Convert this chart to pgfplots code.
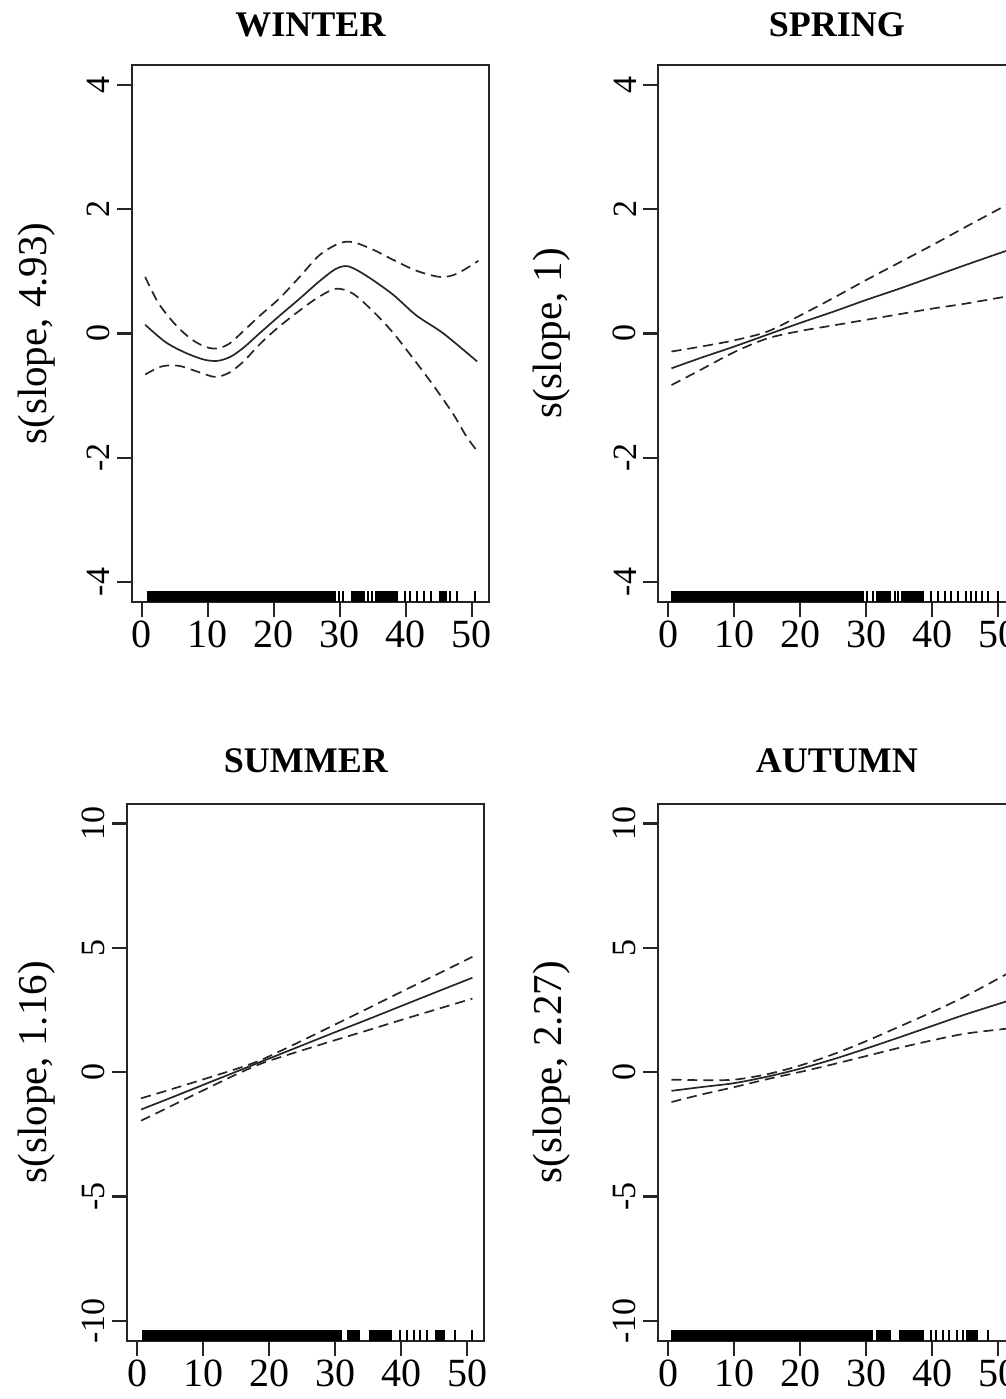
\documentclass[border=0pt]{standalone}
\usepackage{fontspec}
\setmainfont{Liberation Serif}
\usepackage{pgfplots}
\pgfplotsset{compat=1.18}
\begin{document}
\begin{tikzpicture}
\useasboundingbox (0,0) rectangle (503pt,699.5pt);
\clip (0,0) rectangle (503pt,699.5pt);
\pgfplotsset{
  gam/.style={
    scale only axis, width=178.5pt, height=268.5pt, anchor=south west,
    xmin=-1.5, xmax=52.6,
    axis line style={line width=1.1pt, black!85},
    tick align=outside, xtick pos=left, ytick pos=left,
    major tick length=7.5pt,
    tick style={line width=1.1pt, black!85},
    xtick={0,10,20,30,40,50}, xticklabels={0,10,20,30,40,50},
    yticklabel style={rotate=90, anchor=south, font=\fontsize{17}{17}\selectfont},
    xticklabel style={anchor=north, inner sep=2pt, font=\fontsize{20}{20}\selectfont},
    every axis title/.style={at={(0.5,1)}, anchor=base, yshift=14pt, font=\bfseries\fontsize{18}{18}\selectfont},
    ylabel style={font=\fontsize{20.5}{20.5}\selectfont, anchor=center},
  },
  top/.style={ymin=-4.32, ymax=4.32, ytick={-4,-2,0,2,4}, yticklabels={-4,-2,0,2,4}},
  bot/.style={ymin=-10.8, ymax=10.8, ytick={-10,-5,0,5,10}, yticklabels={-10,-5,0,5,10}},
  fit/.style={black!85, line width=0.85pt, smooth},
  ci/.style={black!85, line width=0.85pt, smooth, dash pattern=on 5pt off 3pt},
  rugblk/.style={black, line width=5.5pt, line cap=butt},
  rugtk/.style={black, only marks, mark=|, mark size=2.75pt, mark options={line width=1pt}},
}
% ---------------- WINTER ----------------
\begin{axis}[gam, top, at={(66pt,398.5pt)}, title={WINTER}, ylabel={s(slope, 4.93)},
  ylabel style={at={(axis description cs:-0.266,0.5)}}]
\addplot[rugblk] coordinates {(0.7,-4.23) (29.4,-4.23)};
\addplot[rugblk] coordinates {(31.7,-4.23) (33.8,-4.23)};
\addplot[rugblk] coordinates {(35.3,-4.23) (38.8,-4.23)};
\addplot[rugblk] coordinates {(45.0,-4.23) (46.3,-4.23)};
\addplot[rugtk] coordinates {(29.9,-4.23) (30.5,-4.23) (34.3,-4.23) (34.8,-4.23) (39.8,-4.23) (40.6,-4.23) (41.7,-4.23) (42.8,-4.23) (43.8,-4.23) (46.7,-4.23) (47.7,-4.23) (50.5,-4.23)};
\addplot[fit] coordinates {(0.5,0.14) (3.6,-0.14) (6.6,-0.31) (9.4,-0.42) (11.5,-0.44) (13.5,-0.37) (15.5,-0.22) (17.8,0) (20.8,0.28) (23.9,0.56) (26.9,0.84) (29.4,1.04) (31.3,1.08) (34,0.93) (38,0.63) (41.6,0.29) (45.7,0.0) (50.8,-0.45)};
\addplot[ci] coordinates {(0.5,0.91) (2.5,0.49) (5.1,0.14) (7.6,-0.10) (9.8,-0.22) (11.5,-0.24) (13.3,-0.16) (15.2,0.02) (17.8,0.28) (20.8,0.56) (23.9,0.91) (26.9,1.26) (29.9,1.45) (32,1.47) (35,1.35) (38,1.19) (41.6,1.01) (45.2,0.91) (47.7,0.96) (51,1.17)};
\addplot[ci] coordinates {(0.5,-0.66) (3,-0.53) (5.6,-0.52) (8.6,-0.62) (11.2,-0.70) (13.4,-0.62) (15.5,-0.44) (17.6,-0.20) (19.8,0.02) (22.8,0.28) (26.4,0.56) (29.4,0.72) (32,0.64) (35,0.36) (38,0.02) (41.1,-0.40) (44.2,-0.84) (47.2,-1.30) (49.2,-1.66) (50.8,-1.89)};
\end{axis}
% ---------------- SPRING ----------------
\begin{axis}[gam, top, at={(329.15pt,398.5pt)}, title={SPRING}, ylabel={s(slope, 1)},
  ylabel style={at={(axis description cs:-0.298,0.5)}}]
\addplot[rugblk] coordinates {(0.5,-4.23) (29.7,-4.23)};
\addplot[rugblk] coordinates {(31.5,-4.23) (33.8,-4.23)};
\addplot[rugblk] coordinates {(35.3,-4.23) (38.8,-4.23)};
\addplot[rugtk] coordinates {(30.2,-4.23) (31.0,-4.23) (34.3,-4.23) (34.8,-4.23) (39.8,-4.23) (40.9,-4.23) (41.9,-4.23) (42.9,-4.23) (43.9,-4.23) (45.2,-4.23) (45.9,-4.23) (46.7,-4.23) (47.5,-4.23) (48.5,-4.23) (50.0,-4.23)};
\addplot[fit] coordinates {(0.5,-0.56) (5,-0.39) (10,-0.21) (15,-0.02) (20,0.17) (25,0.35) (30,0.54) (35,0.72) (40,0.91) (45,1.10) (51.5,1.34)};
\addplot[ci] coordinates {(0.5,-0.29) (5,-0.21) (10,-0.11) (15,0.03) (20,0.29) (25,0.57) (30,0.86) (35,1.14) (40,1.42) (45,1.71) (51.5,2.08)};
\addplot[ci] coordinates {(0.5,-0.83) (5,-0.58) (10,-0.30) (15,-0.08) (20,0.04) (25,0.13) (30,0.22) (35,0.31) (40,0.40) (45,0.48) (51.5,0.60)};
\end{axis}
% ---------------- SUMMER ----------------
\begin{axis}[gam, bot, at={(63.65pt,29.15pt)}, title={SUMMER}, ylabel={s(slope, 1.16)},
  every axis title/.append style={yshift=1.5pt},
  ylabel style={at={(axis description cs:-0.253,0.5)}}]
\addplot[rugblk] coordinates {(0.7,-10.6) (31.0,-10.6)};
\addplot[rugblk] coordinates {(31.8,-10.6) (33.8,-10.6)};
\addplot[rugblk] coordinates {(35.1,-10.6) (38.6,-10.6)};
\addplot[rugblk] coordinates {(45.2,-10.6) (46.7,-10.6)};
\addplot[rugtk] coordinates {(39.9,-10.6) (40.9,-10.6) (41.9,-10.6) (42.9,-10.6) (43.9,-10.6) (48.2,-10.6) (50.7,-10.6)};
\addplot[fit] coordinates {(0.6,-1.50) (5,-1.04) (10,-0.51) (15,0.02) (18,0.34) (20,0.55) (25,1.08) (30,1.61) (35,2.13) (40,2.66) (45,3.19) (50.8,3.80)};
\addplot[ci] coordinates {(0.6,-1.05) (5,-0.70) (10,-0.29) (15,0.13) (18,0.41) (20,0.64) (25,1.27) (30,1.92) (35,2.57) (40,3.23) (45,3.88) (50.8,4.64)};
\addplot[ci] coordinates {(0.6,-1.95) (5,-1.38) (10,-0.73) (15,-0.09) (18,0.26) (20,0.46) (25,0.88) (30,1.29) (35,1.69) (40,2.10) (45,2.50) (50.8,2.96)};
\end{axis}
% ---------------- AUTUMN ----------------
\begin{axis}[gam, bot, at={(329.15pt,29.15pt)}, title={AUTUMN}, ylabel={s(slope, 2.27)},
  every axis title/.append style={yshift=1.5pt},
  ylabel style={at={(axis description cs:-0.298,0.5)}}]
\addplot[rugblk] coordinates {(0.5,-10.6) (31.0,-10.6)};
\addplot[rugblk] coordinates {(31.5,-10.6) (33.8,-10.6)};
\addplot[rugblk] coordinates {(35.0,-10.6) (38.8,-10.6)};
\addplot[rugblk] coordinates {(45.2,-10.6) (47.0,-10.6)};
\addplot[rugtk] coordinates {(39.8,-10.6) (40.6,-10.6) (41.6,-10.6) (42.6,-10.6) (43.7,-10.6) (44.7,-10.6) (48.5,-10.6)};
\addplot[fit] coordinates {(0.5,-0.75) (5,-0.60) (10,-0.44) (15,-0.18) (20,0.14) (25,0.52) (30,0.95) (35,1.40) (40,1.86) (45,2.32) (51.3,2.85)};
\addplot[ci] coordinates {(0.5,-0.30) (5,-0.32) (10,-0.30) (15,-0.08) (20,0.27) (25,0.72) (30,1.25) (35,1.83) (40,2.42) (45,3.05) (51.3,3.95)};
\addplot[ci] coordinates {(0.5,-1.20) (5,-0.90) (10,-0.60) (15,-0.28) (20,0.01) (25,0.32) (30,0.65) (35,0.98) (40,1.28) (45,1.55) (51.3,1.75)};
\end{axis}
\end{tikzpicture}
\end{document}
